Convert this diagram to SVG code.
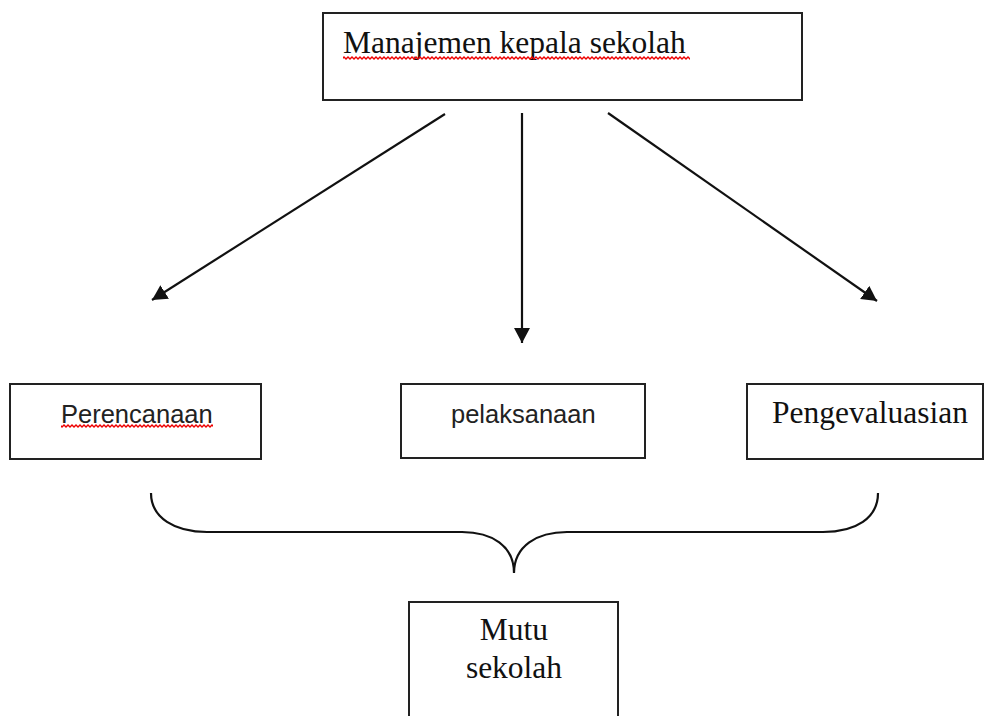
<svg xmlns="http://www.w3.org/2000/svg" width="984" height="716" viewBox="0 0 984 716">
<style>
.box{fill:#fff;stroke:#222;stroke-width:2}
.serif{font-family:"Liberation Serif","Times New Roman",serif;font-size:31.5px;fill:#111}
.sans{font-family:"Liberation Sans",Arial,sans-serif;font-size:25.5px;fill:#222}
.conn{stroke:#111;stroke-width:2.2;fill:none}
.squig{fill:url(#sq)}
</style>
<defs>
<marker id="ah" markerUnits="userSpaceOnUse" markerWidth="17" markerHeight="17" refX="15" refY="8" orient="auto">
<path d="M0,0 L15,8 L0,16 z" fill="#111"/>
</marker>
<pattern id="sq" x="0" y="0" width="4" height="4" patternUnits="userSpaceOnUse">
<path d="M-1,0 L2,3 L5,0" stroke="#e00" stroke-width="1.4" fill="none"/>
</pattern>
</defs>
<rect width="984" height="716" fill="#fff"/>
<g id="node-manajemen">
<rect class="box" x="323" y="13" width="479" height="87"/>
<text class="serif" x="343" y="53">Manajemen kepala sekolah</text>
<rect class="squig" x="343" y="56" width="347" height="4"/>
</g>
<g id="node-perencanaan">
<rect class="box" x="10" y="384" width="251" height="75"/>
<text class="sans" x="61" y="423">Perencanaan</text>
<rect class="squig" x="61" y="424" width="152" height="4"/>
</g>
<g id="node-pelaksanaan">
<rect class="box" x="401" y="384" width="244" height="74"/>
<text class="sans" x="451" y="423">pelaksanaan</text>
</g>
<g id="node-pengevaluasian">
<rect class="box" x="747" y="384" width="236" height="75"/>
<text class="serif" x="772" y="423">Pengevaluasian</text>
</g>
<g id="node-mutu">
<rect class="box" x="409" y="602" width="209" height="130"/>
<text class="serif" x="514" y="640" text-anchor="middle">Mutu</text>
<text class="serif" x="514" y="678" text-anchor="middle">sekolah</text>
</g>
<g id="connectors">
<line class="conn" x1="445" y1="114" x2="152" y2="300" marker-end="url(#ah)"/>
<line class="conn" x1="522" y1="113" x2="522" y2="343" marker-end="url(#ah)"/>
<line class="conn" x1="608" y1="113" x2="877" y2="301" marker-end="url(#ah)"/>
<path class="conn" stroke-width="2" stroke="#333" d="M151,493 C151,518 175,532 207,532 L462,532 C492,532 514,546 514,573 C514,546 537,532 567,532 L823,532 C856,532 878,518 878,493"/>
</g>
</svg>
